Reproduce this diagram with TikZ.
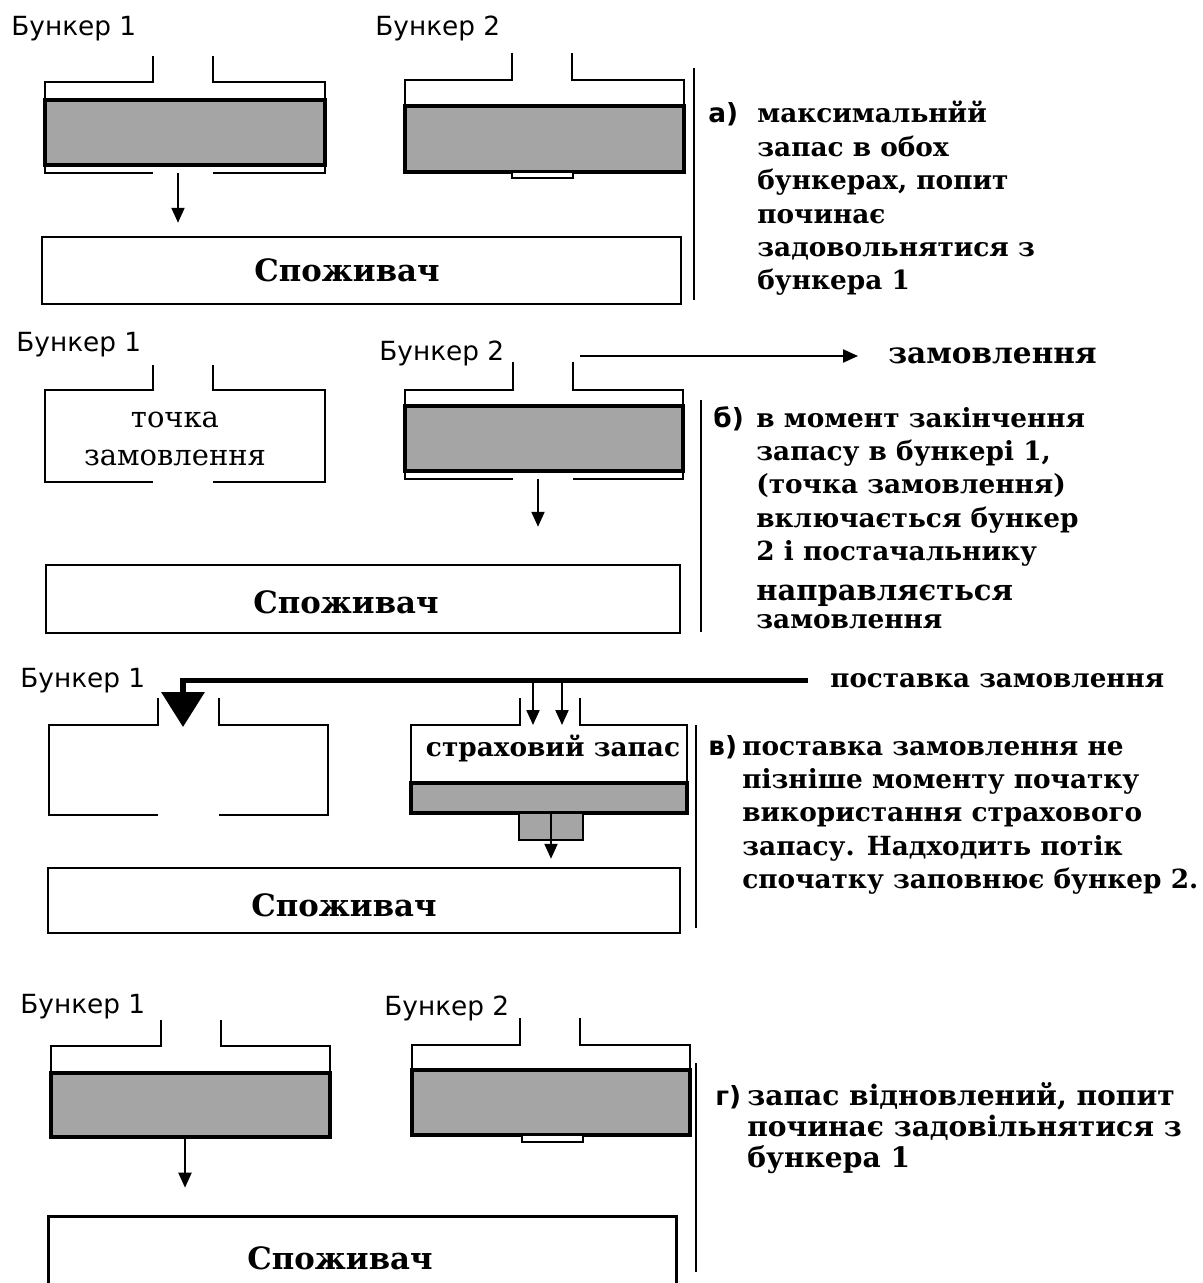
\documentclass[tikz,border=0pt]{standalone}
\usepackage{fontspec}
\setmainfont{DejaVu Serif}
\setsansfont{DejaVu Sans}
\usetikzlibrary{arrows.meta}
\definecolor{stock}{RGB}{165,165,165}
\newcommand\bunkerwall[7]{%
  \draw[wall] (#5,#7) -- (#5,#3) -- (#1,#3) -- (#1,#4) -- (#5,#4);
  \draw[wall] (#6,#4) -- (#2,#4) -- (#2,#3) -- (#6,#3) -- (#6,#7);}
\tikzset{
  wall/.style={line width=1.4pt},
  stocklayer/.style={fill=stock,draw=black,line width=2pt},
  gate/.style={fill=white,draw=black,line width=1pt},
  consumer/.style={draw,line width=1.4pt,inner sep=0pt},
  consumeropen/.style={inner sep=0pt},
  ctext/.style={font=\bfseries\fontsize{17.5}{20}\selectfont,inner sep=0pt},
  binlabel/.style={font=\sffamily\fontsize{15}{17}\selectfont,anchor=base west,inner sep=0pt},
  flow/.style={line width=1.2pt,-{Triangle[width=0.26cm,length=0.3cm]}},
  heavyflow/.style={line width=3pt,-{Triangle[width=0.85cm,length=0.7cm]}},
  sidebar/.style={line width=1.6pt},
  tag/.style={font=\sffamily\bfseries\fontsize{15}{18}\selectfont,anchor=base west,inner sep=0pt},
  note/.style={font=\bfseries\fontsize{15}{19}\selectfont,anchor=base west,inner sep=0pt},
  midnote/.style={font=\bfseries\fontsize{14.9}{19}\selectfont,anchor=base west,inner sep=0pt},
  pointtext/.style={font=\fontsize{16.5}{21.5}\selectfont,align=center,inner sep=0pt},
}
\begin{document}
\begin{tikzpicture}[x=0.02cm,y=-0.02cm]
\useasboundingbox[fill=white] (0,0) rectangle (1202,1283);

% ================= panel a
\node[binlabel] (a1l) at (11,36) {Бункер 1};
\node[binlabel] (a2l) at (375,36) {Бункер 2};
\draw[stocklayer] (45,100) rectangle (325,165);
\bunkerwall{45}{325}{82}{173}{153}{213}{56}
\coordinate (a1out) at (178,173);
\draw[stocklayer] (405,106) rectangle (684,172);
\bunkerwall{405}{684}{80}{172}{512}{572}{53}
\draw[gate] (512,172) rectangle (573,178);
\node[consumer,minimum width=12.78cm,minimum height=1.34cm] (ca) at (361.5,270.5) {};
\node[ctext] (cat) at (347,270) {Споживач};
\draw[flow,shorten >=0.26cm] (a1out) -- (a1out |- ca.north);
\draw[sidebar] (694,68) -- (694,300);
\node[tag] (ta) at (708,123) {а)};
\node[note] (na) at (757,123) {\begin{tabular}[t]{@{}l@{}}максимальнйй\\запас в обох\\бункерах, попит\\починає\\задовольнятися з\\бункера 1\end{tabular}};

% ================= panel b
\node[binlabel] (b1l) at (16,352) {Бункер 1};
\node[binlabel] (b2l) at (379,360) {Бункер 2};
\bunkerwall{45}{325}{390}{482}{153}{213}{365}
\node[pointtext] (pt) at (175,439) {точка\\замовлення};
\draw[stocklayer] (405,406) rectangle (683,471);
\bunkerwall{405}{683}{390}{479}{513}{573}{362}
\coordinate (b2out) at (538,479);
\node[consumer,minimum width=12.68cm,minimum height=1.36cm] (cb) at (363,599) {};
\node[ctext] (cbt) at (346,602) {Споживач};
\draw[flow,shorten >=0.74cm] (b2out) -- (b2out |- cb.north);
\coordinate (ostart) at (580,356);
\node[font=\bfseries\fontsize{16.8}{20}\selectfont,anchor=base west,inner sep=0pt] (ol) at (888,363) {замовлення};
\draw[flow,shorten >=0.6cm] (ostart) -- (ostart -| ol.west);
\draw[sidebar] (701,400) -- (701,632);
\node[tag] (tb) at (713,427) {б)};
\node[note] (nb) at (756,427) {\begin{tabular}[t]{@{}l@{}}в момент закінчення\\запасу в бункері 1,\\(точка замовлення)\\включається бункер\\2 і постачальнику\\[3.5pt]{\fontsize{16.5}{20}\selectfont направляється}\\[-2.7pt]замовлення\end{tabular}};

% ================= panel c
\node[binlabel] (c1l) at (20,687) {Бункер 1};
\bunkerwall{49}{328}{725}{815}{158}{219}{698}
\coordinate (c1in) at (183,727);
\node[midnote] (dl) at (830,687) {поставка замовлення};
\draw[heavyflow] ([xshift=-0.44cm]dl.west) -| (c1in);
\coordinate (c2a) at (533,682);
\coordinate (c2b) at (562,682);
\coordinate (c2top) at (550,725);
\draw[stocklayer] (411,783) rectangle (687,813);
\bunkerwall{411}{687}{725}{813}{520}{580}{698}
\draw[flow] (c2a) -- (c2a |- c2top);
\draw[flow] (c2b) -- (c2b |- c2top);
\draw[stocklayer,line width=1.5pt] (519,813) rectangle (583,840);
\node[font=\bfseries\fontsize{15}{18}\selectfont,inner sep=0pt] (sz) at (553,748) {страховий запас};
\coordinate (c2out) at (551,813);
\node[consumer,minimum width=12.64cm,minimum height=1.3cm] (cc) at (364,900.5) {};
\node[ctext] (cct) at (344,905) {Споживач};
\draw[flow,shorten >=0.16cm] (c2out) -- (c2out |- cc.north);
\draw[sidebar] (696,725) -- (696,928);
\node[tag] (tc) at (708,755) {в)};
\node[note] (nc) at (742,755) {\begin{tabular}[t]{@{}l@{}}поставка замовлення не\\пізніше моменту початку\\використання страхового\\запасу. Надходить потік\\спочатку заповнює бункер 2.\end{tabular}};

% ================= panel d
\node[binlabel] (d1l) at (20,1013) {Бункер 1};
\node[binlabel] (d2l) at (384,1015) {Бункер 2};
\draw[stocklayer] (51,1073) rectangle (330,1137);
\bunkerwall{51}{330}{1046}{1137}{161}{221}{1020}
\coordinate (d1out) at (185,1137);
\draw[stocklayer] (412,1070) rectangle (690,1135);
\bunkerwall{412}{690}{1045}{1135}{520}{580}{1018}
\draw[gate] (522,1135) rectangle (583,1142);
\node[consumeropen,minimum width=12.54cm,minimum height=1.32cm] (cd) at (362.5,1250) {};
\draw[line width=1.4pt] (cd.south west) |- (cd.north east) -- (cd.south east);
\node[ctext] (cdt) at (340,1258) {Споживач};
\draw[flow,shorten >=0.58cm] (d1out) -- (d1out |- cd.north);
\draw[sidebar] (696,1063) -- (696,1272);
\node[tag] (td) at (715,1105) {г)};
\node[font=\bfseries\fontsize{16}{17.8}\selectfont,anchor=base west,inner sep=0pt] (nd) at (747,1105) {\begin{tabular}[t]{@{}l@{}}запас відновлений, попит\\починає задовільнятися з\\бункера 1\end{tabular}};
\end{tikzpicture}
\end{document}
